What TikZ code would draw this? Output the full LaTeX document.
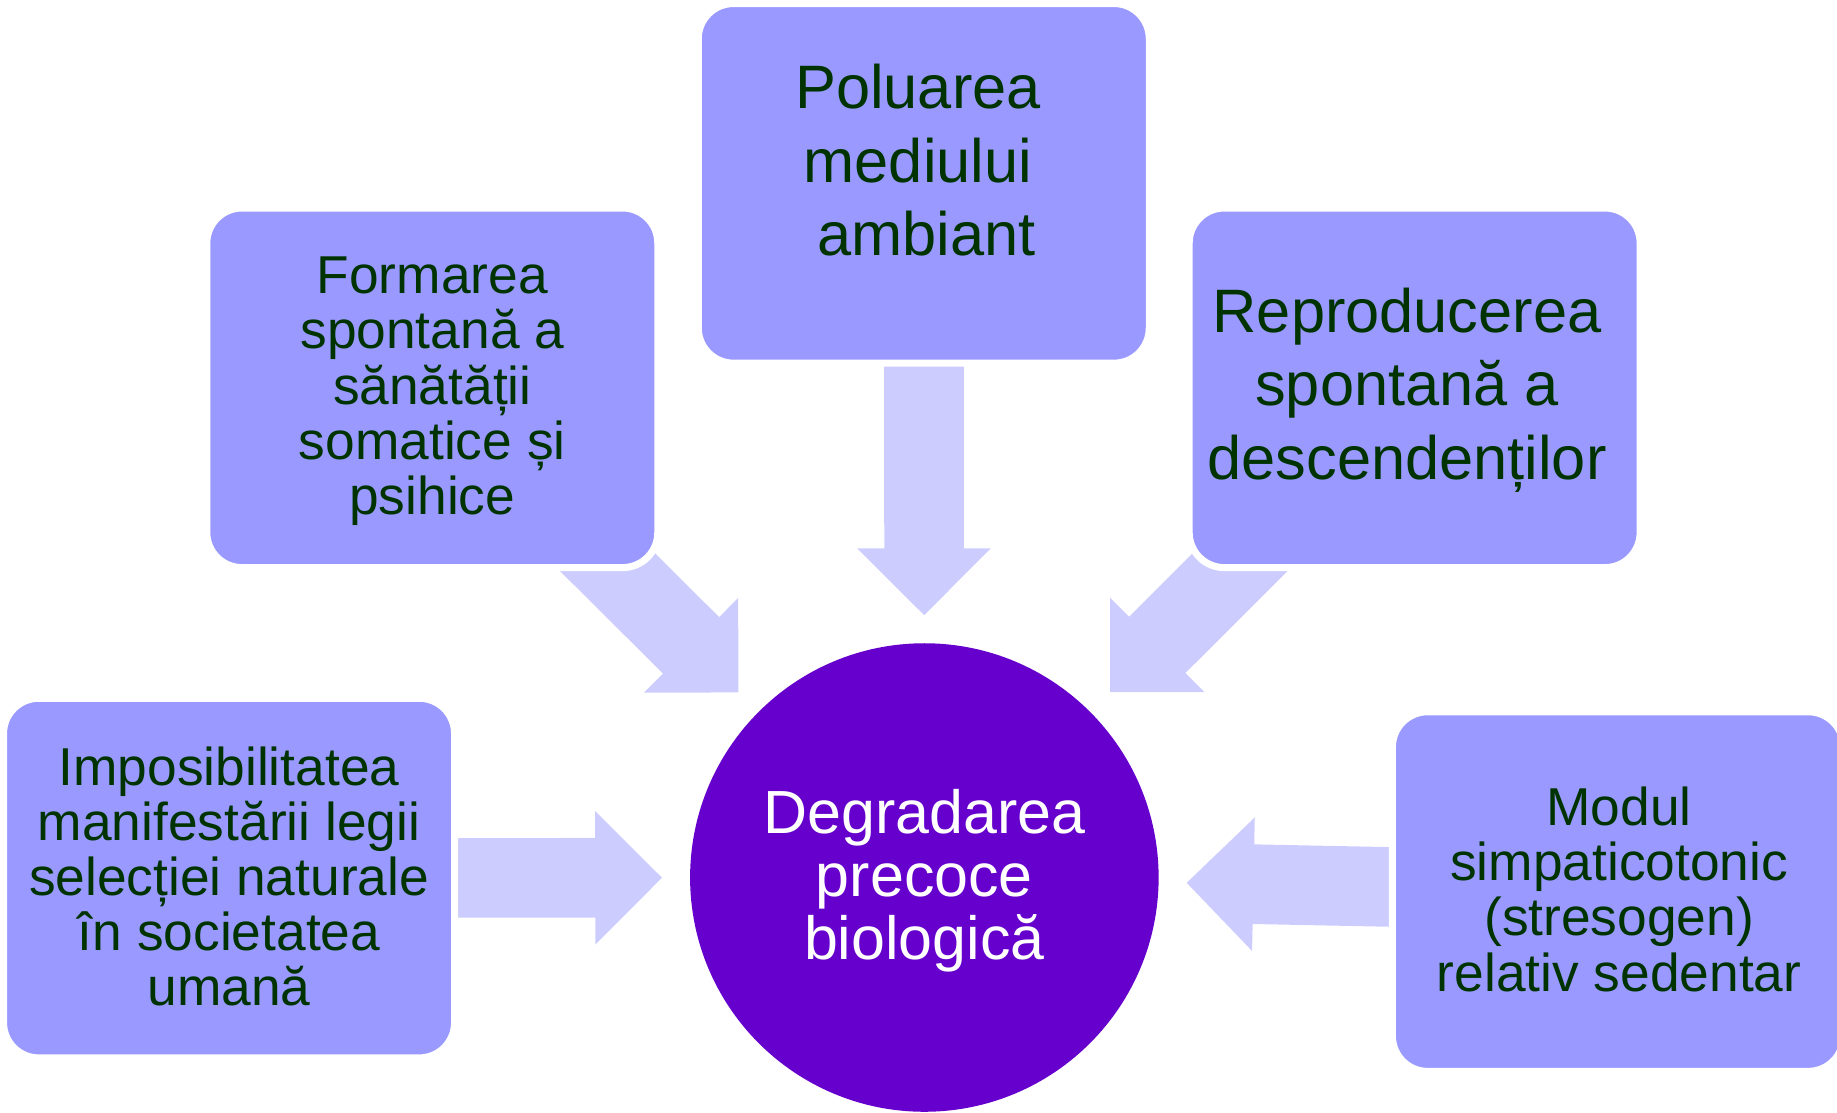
\documentclass[tikz,border=0pt]{standalone}
\usepackage{fontspec}
\setmainfont{Liberation Sans}
\usetikzlibrary{calc}
\definecolor{boxfill}{RGB}{153,153,255}
\definecolor{arrowfill}{RGB}{204,204,255}
\definecolor{circfill}{RGB}{102,0,204}
\definecolor{textgreen}{RGB}{0,51,0}
\pgfdeclarelayer{bg}
\pgfsetlayers{bg,main}
\newcommand{\radarrow}[2]{% #1 source box node, #2 target node
  \coordinate (tip) at ($(#2.center)!4.48cm!(#1.center)$);
  \coordinate (hb) at ($(tip)!1.14cm!(#1.center)$);
  \fill[arrowfill] (tip) -- ($(hb)!1.14cm!90:(#1.center)$) -- ($(hb)!0.68cm!90:(#1.center)$)
    -- ($(#1.center)!0.68cm!-90:(#2.center)$) -- ($(#1.center)!0.68cm!90:(#2.center)$)
    -- ($(hb)!0.68cm!-90:(#1.center)$) -- ($(hb)!1.14cm!-90:(#1.center)$) -- cycle;
}
\begin{document}
\begin{tikzpicture}[x=0.02cm,y=-0.02cm,
  box/.style={rectangle, rounded corners=0.6cm, fill=boxfill, draw=white, line width=0.12cm,
    minimum width=7.7cm, minimum height=6.14cm, inner sep=0pt},
  lbl/.style={align=center, text=textgreen, inner sep=0pt},
  smalltxt/.style={font=\fontsize{25.9}{26.8}\selectfont},
  bigtxt/.style={font=\fontsize{29.8}{35.7}\selectfont}]
\useasboundingbox (0,0) rectangle (1568,949.2);

% boxes
\node[box] (poll) at (788.5,156.5) {};
\node[box] (form) at (369,331) {};
\node[box] (repr) at (1207.5,331) {};
\node[box] (impo) at (195.5,749.5) {};
\node[box] (modu) at (1381,761) {};

% centre circle
\node[circle, fill=circfill, minimum size=8cm, inner sep=0pt] (deg) at (789,749) {};

% labels
\node[lbl, bigtxt] (pollt) at (783.5,137) {Poluarea\\mediului\\\hspace*{0.28em}ambiant};
\node[lbl, smalltxt] (formt) at (369,334) {Formarea\\spontană a\\sănătății\\somatice și\\psihice};
\node[lbl, bigtxt] (reprt) at (1201,333) {Reproducerea\\spontană a\\descendenților};
\node[lbl, smalltxt] (impot) at (195.5,748) {Imposibilitatea\\manifestării legii\\selecției naturale\\în societatea\\umană};
\node[lbl, smalltxt] (modut) at (1382,759) {Modul\\simpaticotonic\\(stresogen)\\relativ sedentar};
\node[lbl, text=white, font=\fontsize{29.6}{30.7}\selectfont] (degt) at (789,752) {Degradarea\\precoce\\biologică};

% arrows (behind boxes)
\begin{pgfonlayer}{bg}
  \radarrow{poll}{deg}
  \radarrow{form}{deg}
  \radarrow{repr}{deg}
  \radarrow{impo}{deg}
  \radarrow{modu}{deg}
\end{pgfonlayer}
\end{tikzpicture}
\end{document}
